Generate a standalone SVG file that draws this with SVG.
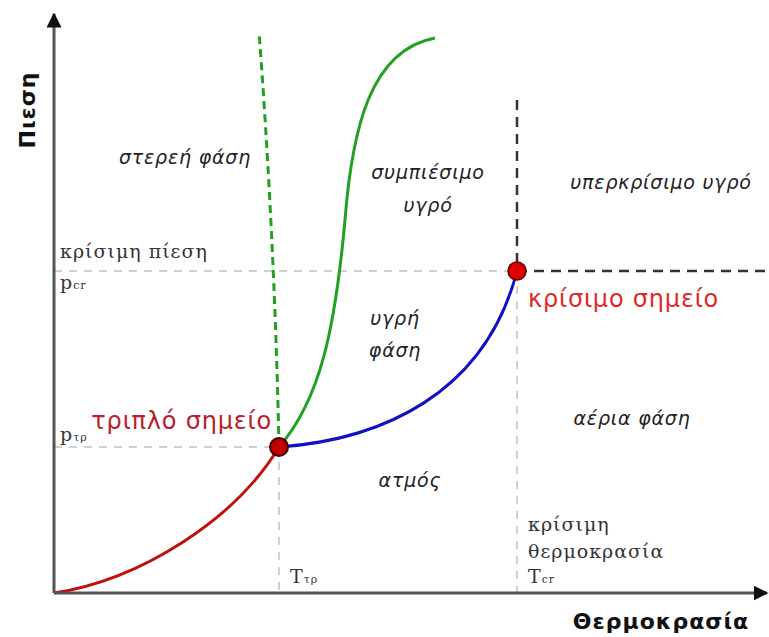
<svg xmlns="http://www.w3.org/2000/svg" width="769" height="637" viewBox="0 0 769 637">
<style>
.ax{stroke:#555;stroke-width:3;fill:none}
.gd{stroke:#d0d0d0;stroke-width:2;stroke-dasharray:8 7;fill:none}
.bd{stroke:#333;stroke-width:2.5;stroke-dasharray:10 7;fill:none}
.it{font-family:"DejaVu Sans",sans-serif;font-style:italic;font-size:19px;letter-spacing:0.8px;fill:#222}
.sf{font-family:"DejaVu Serif",serif;font-size:19px;letter-spacing:1px;fill:#333}
.rl{font-family:"DejaVu Sans",sans-serif;font-size:24px;letter-spacing:0.8px}
.bl{font-family:"DejaVu Sans",sans-serif;font-weight:bold;font-size:22px;letter-spacing:1px;fill:#111}
</style>
<defs>
<marker id="ar" viewBox="0 0 10 10" refX="9" refY="5" markerWidth="5" markerHeight="5" orient="auto" markerUnits="strokeWidth"><path d="M0,0L10,5L0,10z" fill="#111"/></marker>
</defs>
<g id="guides">
<path class="gd" d="M54,271H517"/>
<path class="gd" d="M54,447H279"/>
<path class="gd" d="M279,447V593"/>
<path class="gd" d="M517,271V593"/>
<path class="bd" d="M517,100V271"/>
<path class="bd" d="M517,271H769"/>
</g>
<g id="connectors">
<path d="M54,593C140,580 235,520 279,447" stroke="#c01010" stroke-width="3" fill="none"/>
<path d="M279,447C380,440 485,395 517,271" stroke="#1010c0" stroke-width="3" fill="none"/>
<path d="M279,447C320,400 335,330 345,220C352,130 370,50 435,38" stroke="#22a022" stroke-width="3" fill="none"/>
<path d="M279,447C276,300 268,150 259,32" stroke="#22a022" stroke-width="3" stroke-dasharray="8 5" fill="none"/>
</g>
<g id="axes">
<path class="ax" d="M54,593V14" marker-end="url(#ar)"/>
<path class="ax" d="M54,593H767" marker-end="url(#ar)"/>
</g>
<g id="triple-point"><circle cx="279" cy="447" r="9" fill="#c00000" stroke="#400" stroke-width="2"/></g>
<g id="critical-point"><circle cx="517" cy="271" r="9" fill="#e00000" stroke="#600" stroke-width="1.5"/></g>
<g id="labels">
<text class="bl" transform="translate(35,110) rotate(-90)" text-anchor="middle">Πιεση</text>
<text class="bl" x="661" y="629" text-anchor="middle">Θερμοκρασία</text>
<text class="it" x="185" y="164" text-anchor="middle">στερεή φάση</text>
<text class="it" x="428" y="179" text-anchor="middle">συμπιέσιμο</text>
<text class="it" x="428" y="212" text-anchor="middle">υγρό</text>
<text class="it" x="661" y="189" text-anchor="middle">υπερκρίσιμο υγρό</text>
<text class="it" x="395" y="325" text-anchor="middle">υγρή</text>
<text class="it" x="395" y="357" text-anchor="middle">φάση</text>
<text class="it" x="632" y="425" text-anchor="middle">αέρια φάση</text>
<text class="it" x="410" y="487" text-anchor="middle">ατμός</text>
<text class="sf" x="60" y="258">κρίσιμη πίεση</text>
<text class="sf" x="60" y="289">p<tspan font-size="11">cr</tspan></text>
<text class="sf" x="60" y="441">p<tspan font-size="11">τρ</tspan></text>
<text class="sf" x="290" y="583">T<tspan font-size="11">τρ</tspan></text>
<text class="sf" x="528" y="531">κρίσιμη</text>
<text class="sf" x="528" y="558">θερμοκρασία</text>
<text class="sf" x="528" y="583">T<tspan font-size="11">cr</tspan></text>
<text class="rl" x="272" y="429" text-anchor="end" fill="#b8202a">τριπλό σημείο</text>
<text class="rl" x="528" y="307" fill="#e02828">κρίσιμο σημείο</text>
</g>
</svg>
